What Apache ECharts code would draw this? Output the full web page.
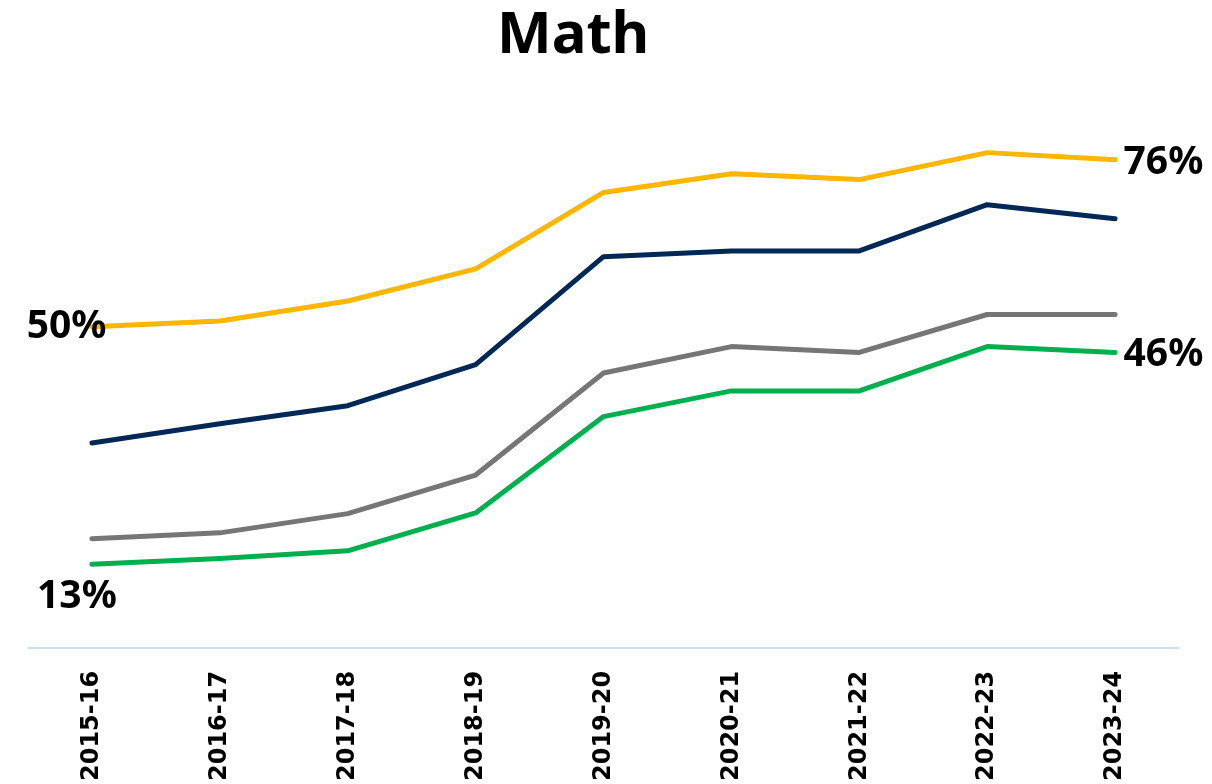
<!DOCTYPE html>
<html>
<head>
<meta charset="utf-8">
<script src="https://cdn.jsdelivr.net/npm/echarts@6/dist/echarts.min.js"></script>
<style>html,body{margin:0;padding:0;background:#fff;}#c{width:1212px;height:784px;}</style>
</head>
<body>
<div id="c"></div>
<script>
const categories = ['2015-16','2016-17','2017-18','2018-19','2019-20','2020-21','2021-22','2022-23','2023-24'];
const yellowValues = [50, 50.9, 54, 59, 70.9, 73.8, 72.9, 77.1, 76];
const navyValues   = [31.9, 34.9, 37.7, 44.1, 60.9, 61.8, 61.8, 69, 66.8];
const grayValues   = [17, 17.9, 20.9, 26.9, 42.8, 46.9, 46, 51.9, 51.9];
const greenValues  = [13, 13.9, 15.1, 21, 36, 40, 40, 46.9, 46];
const titleText = 'Math';

const labelFont = {fontFamily: 'Noto Sans', fontWeight: 'bold', fontSize: 39, color: '#000'};

function endLabels(values, firstPos, firstOffset) {
  return values.map((v, i) => {
    if (i === 0) {
      return {value: v, label: Object.assign({show: true, position: firstPos, offset: firstOffset, formatter: (p) => Math.round(p.value) + '%'}, labelFont)};
    }
    if (i === values.length - 1) {
      return {value: v, label: Object.assign({show: true, position: 'right', distance: 8, offset: [0, 3], formatter: (p) => Math.round(p.value) + '%'}, labelFont)};
    }
    return v;
  });
}

const chart = echarts.init(document.getElementById('c'), null, {renderer: 'canvas'});
const lineSeries = (name, data, color, z) => ({
  name, type: 'line', data, symbol: 'circle', symbolSize: 1, showSymbol: true, z,
  lineStyle: {color, width: 5, cap: 'round', join: 'round'},
  itemStyle: {color},
  label: {show: false}
});

chart.setOption({
  animation: false,
  title: {text: titleText, left: 492, top: 2,
    textStyle: {fontFamily: 'Noto Sans', fontWeight: 'bold', fontSize: 58, color: '#000'}},
  grid: {left: 28, right: 33, top: 134, bottom: 136},
  xAxis: {
    type: 'category', data: categories, boundaryGap: true,
    axisLine: {show: true, lineStyle: {color: '#BDD7EE', width: 1.5}},
    axisTick: {show: false},
    axisLabel: {rotate: 90, margin: 23, fontFamily: 'DejaVu Sans', fontWeight: 'bold', fontSize: 24, color: '#000'}
  },
  yAxis: {
    type: 'value', min: 0, max: 80,
    show: false, splitLine: {show: false}
  },
  series: [
    lineSeries('Yellow', endLabels(yellowValues, 'left', [20, 0]), '#FFB600', 4),
    lineSeries('Navy', navyValues, '#002856', 3),
    lineSeries('Gray', grayValues, '#767676', 2),
    lineSeries('Green', endLabels(greenValues, 'bottom', [-15, 8]), '#00B04F', 1)
  ]
});
</script>
</body>
</html>
